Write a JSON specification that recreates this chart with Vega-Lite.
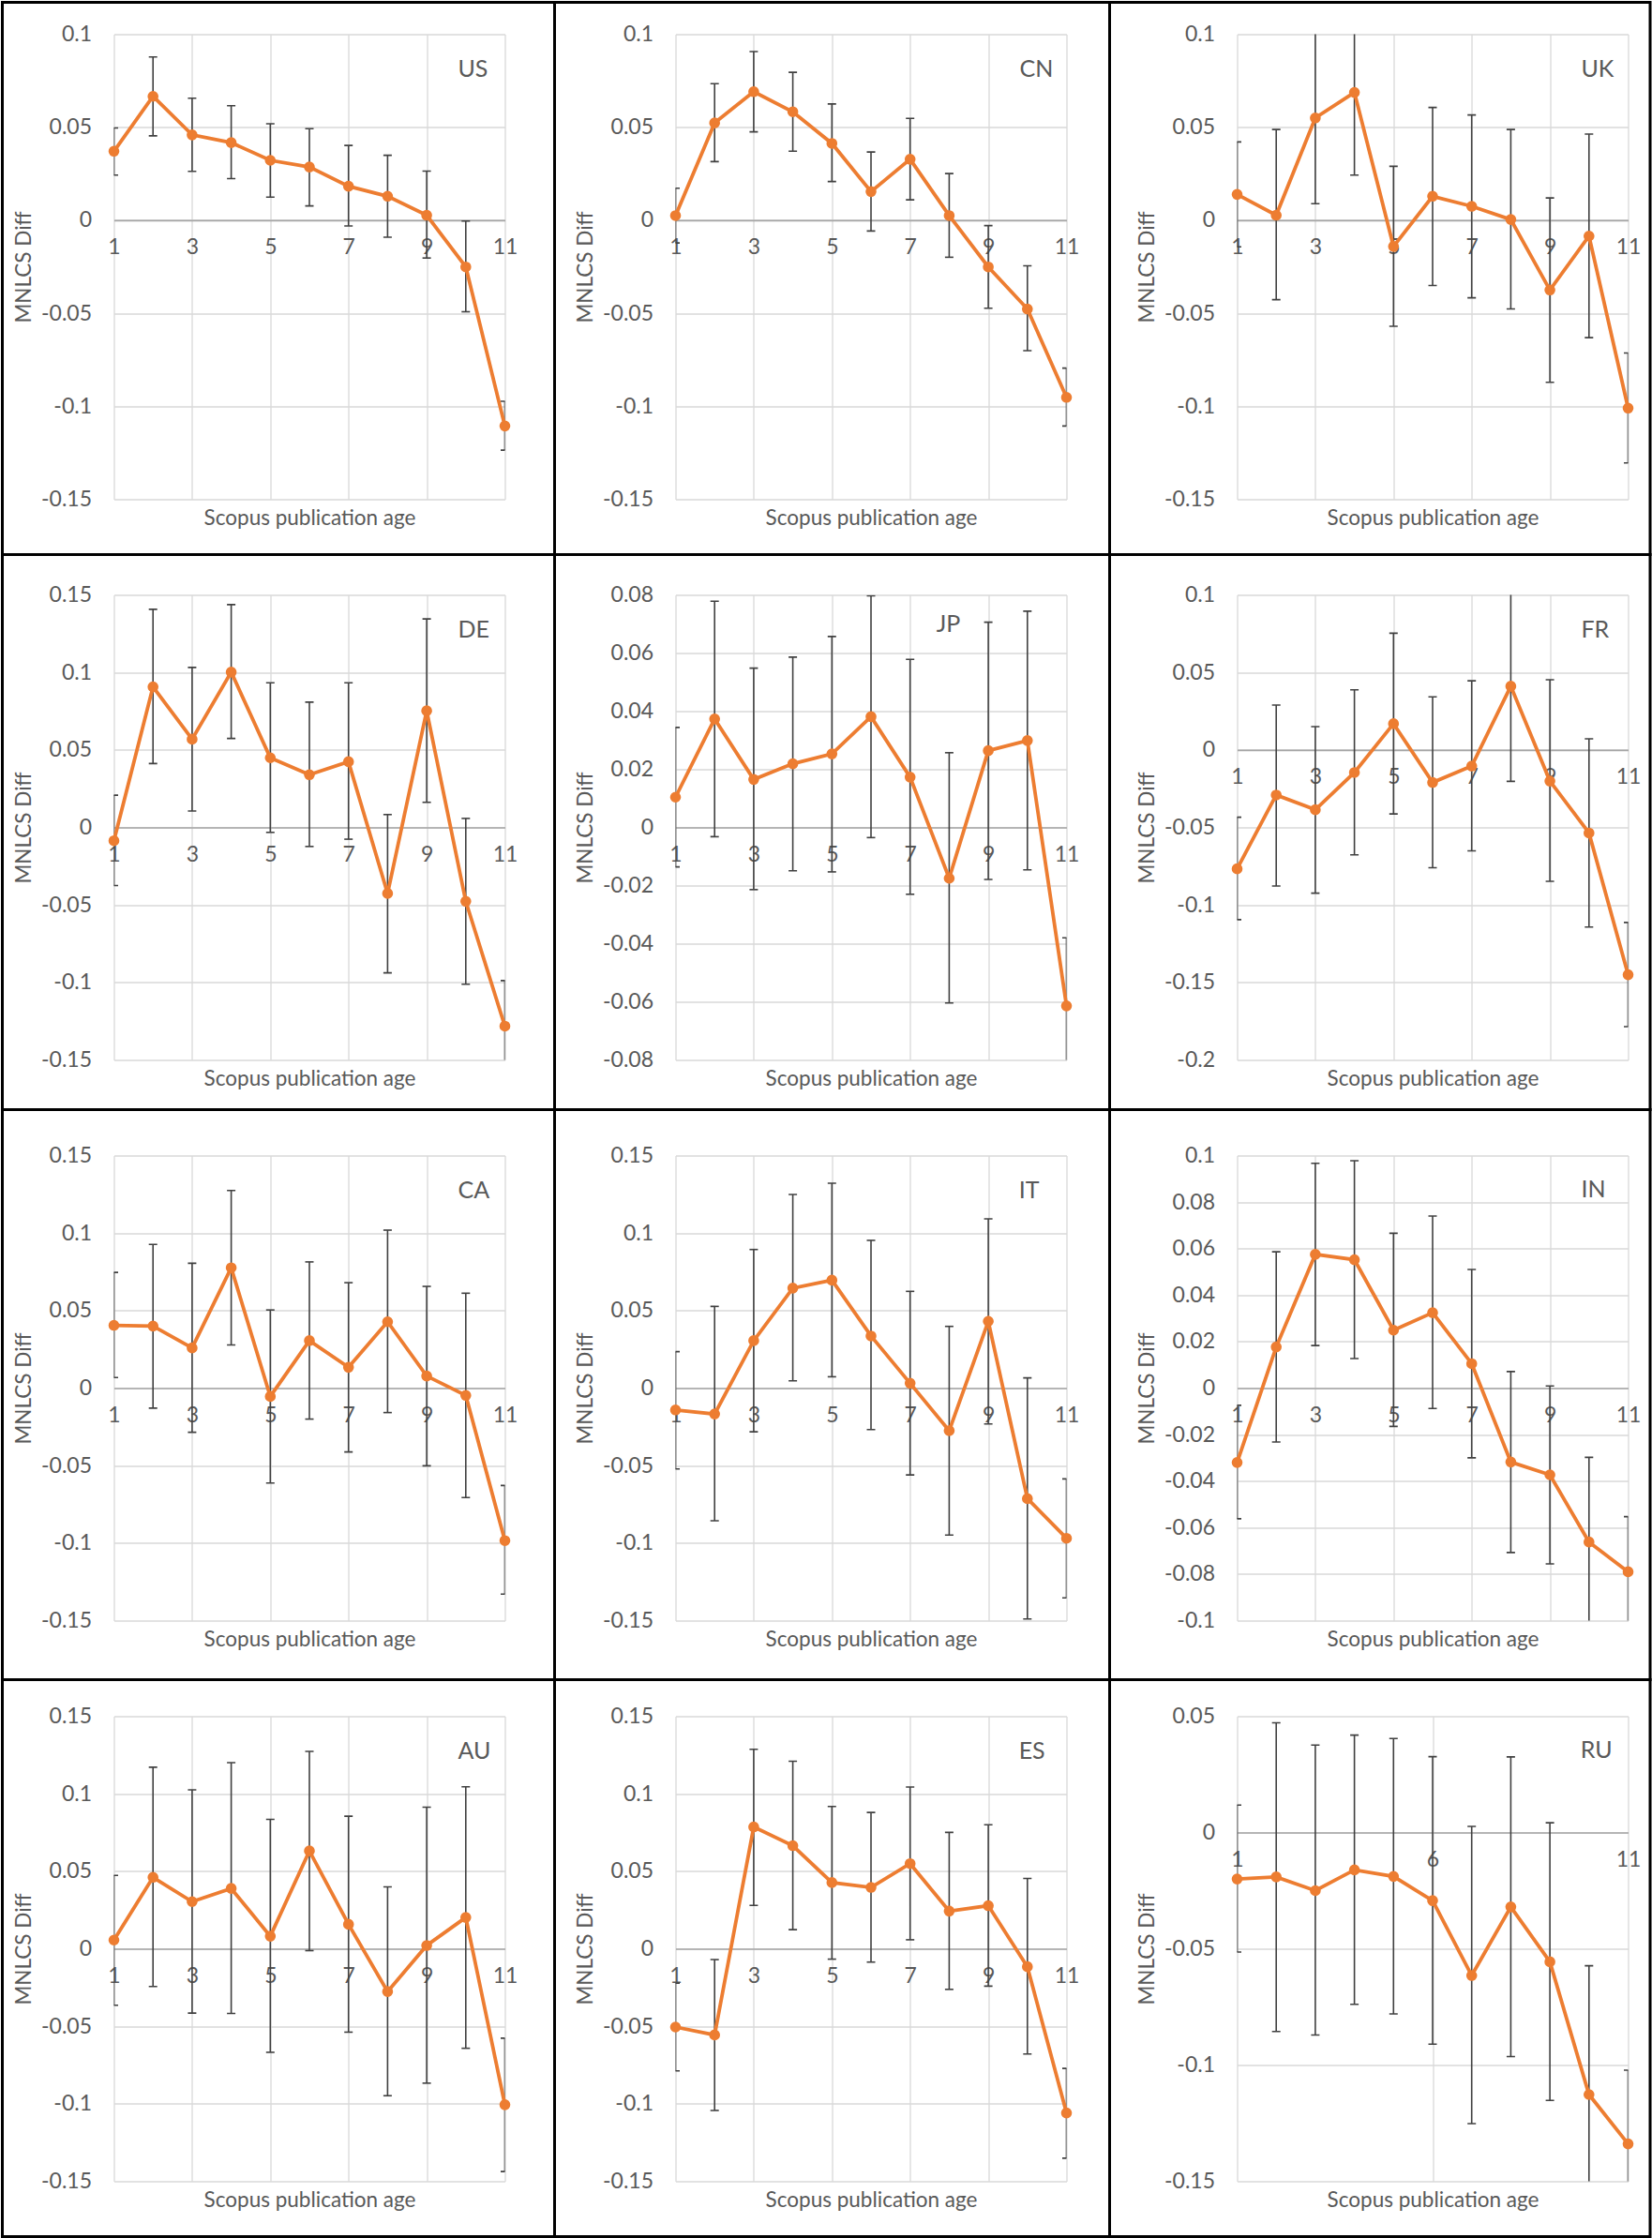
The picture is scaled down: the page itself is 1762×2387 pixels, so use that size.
{
"$schema": "https://vega.github.io/schema/vega-lite/v6.json",
"background": "white",
"padding": {"left": 0.5, "top": 0.5, "right": 0, "bottom": 0},
"autosize": {"type": "pad"},
"columns": 3,
"spacing": {"row": 102, "column": 182},
"bounds": "flush",
"data": {"values": [
{"country":"US","age":1,"diff":0.0371,"lo":0.0243,"hi":0.0496},
{"country":"US","age":2,"diff":0.0666,"lo":0.0454,"hi":0.0878},
{"country":"US","age":3,"diff":0.0459,"lo":0.0263,"hi":0.0656},
{"country":"US","age":4,"diff":0.0417,"lo":0.0224,"hi":0.0616},
{"country":"US","age":5,"diff":0.0322,"lo":0.0124,"hi":0.0519},
{"country":"US","age":6,"diff":0.0286,"lo":0.0077,"hi":0.0492},
{"country":"US","age":7,"diff":0.0183,"lo":-0.0031,"hi":0.0402},
{"country":"US","age":8,"diff":0.0129,"lo":-0.0091,"hi":0.0349},
{"country":"US","age":9,"diff":0.0027,"lo":-0.0203,"hi":0.0264},
{"country":"US","age":10,"diff":-0.0251,"lo":-0.0492,"hi":-0.0004},
{"country":"US","age":11,"diff":-0.1106,"lo":-0.1236,"hi":-0.0973},
{"country":"CN","age":1,"diff":0.0025,"lo":-0.0122,"hi":0.0172},
{"country":"CN","age":2,"diff":0.0523,"lo":0.0315,"hi":0.0734},
{"country":"CN","age":3,"diff":0.0691,"lo":0.0475,"hi":0.0907},
{"country":"CN","age":4,"diff":0.0583,"lo":0.0371,"hi":0.0795},
{"country":"CN","age":5,"diff":0.0413,"lo":0.0208,"hi":0.0625},
{"country":"CN","age":6,"diff":0.0154,"lo":-0.0058,"hi":0.0367},
{"country":"CN","age":7,"diff":0.0328,"lo":0.011,"hi":0.0548},
{"country":"CN","age":8,"diff":0.0025,"lo":-0.0199,"hi":0.0251},
{"country":"CN","age":9,"diff":-0.0251,"lo":-0.0473,"hi":-0.0029},
{"country":"CN","age":10,"diff":-0.0477,"lo":-0.0701,"hi":-0.0245},
{"country":"CN","age":11,"diff":-0.0952,"lo":-0.1106,"hi":-0.0795},
{"country":"UK","age":1,"diff":0.0139,"lo":-0.0143,"hi":0.0421},
{"country":"UK","age":2,"diff":0.0027,"lo":-0.0427,"hi":0.0488},
{"country":"UK","age":3,"diff":0.055,"lo":0.0089,"hi":0.1011},
{"country":"UK","age":4,"diff":0.0687,"lo":0.0243,"hi":0.1131},
{"country":"UK","age":5,"diff":-0.0141,"lo":-0.057,"hi":0.029},
{"country":"UK","age":6,"diff":0.0129,"lo":-0.0351,"hi":0.0606},
{"country":"UK","age":7,"diff":0.0075,"lo":-0.0417,"hi":0.0566},
{"country":"UK","age":8,"diff":0.0004,"lo":-0.0477,"hi":0.0488},
{"country":"UK","age":9,"diff":-0.0375,"lo":-0.0871,"hi":0.012},
{"country":"UK","age":10,"diff":-0.0085,"lo":-0.0631,"hi":0.0463},
{"country":"UK","age":11,"diff":-0.101,"lo":-0.1305,"hi":-0.0714},
{"country":"DE","age":1,"diff":-0.0086,"lo":-0.0375,"hi":0.0208},
{"country":"DE","age":2,"diff":0.0907,"lo":0.0412,"hi":0.1407},
{"country":"DE","age":3,"diff":0.0569,"lo":0.0106,"hi":0.1032},
{"country":"DE","age":4,"diff":0.1002,"lo":0.0574,"hi":0.1437},
{"country":"DE","age":5,"diff":0.0449,"lo":-0.0032,"hi":0.0933},
{"country":"DE","age":6,"diff":0.034,"lo":-0.0123,"hi":0.0808},
{"country":"DE","age":7,"diff":0.0424,"lo":-0.0076,"hi":0.0933},
{"country":"DE","age":8,"diff":-0.0426,"lo":-0.0938,"hi":0.0083},
{"country":"DE","age":9,"diff":0.0752,"lo":0.0162,"hi":0.1345},
{"country":"DE","age":10,"diff":-0.0477,"lo":-0.1012,"hi":0.0058},
{"country":"DE","age":11,"diff":-0.1282,"lo":-0.1576,"hi":-0.0988},
{"country":"JP","age":1,"diff":0.0104,"lo":-0.0136,"hi":0.0344},
{"country":"JP","age":2,"diff":0.0373,"lo":-0.0032,"hi":0.0778},
{"country":"JP","age":3,"diff":0.0165,"lo":-0.0214,"hi":0.0548},
{"country":"JP","age":4,"diff":0.0219,"lo":-0.0149,"hi":0.0586},
{"country":"JP","age":5,"diff":0.0253,"lo":-0.0153,"hi":0.0657},
{"country":"JP","age":6,"diff":0.0381,"lo":-0.0035,"hi":0.0797},
{"country":"JP","age":7,"diff":0.0173,"lo":-0.023,"hi":0.0578},
{"country":"JP","age":8,"diff":-0.0175,"lo":-0.0604,"hi":0.0257},
{"country":"JP","age":9,"diff":0.0264,"lo":-0.0179,"hi":0.0706},
{"country":"JP","age":10,"diff":0.0299,"lo":-0.0146,"hi":0.0744},
{"country":"JP","age":11,"diff":-0.0614,"lo":-0.0848,"hi":-0.038},
{"country":"FR","age":1,"diff":-0.0767,"lo":-0.1095,"hi":-0.0434},
{"country":"FR","age":2,"diff":-0.0291,"lo":-0.0878,"hi":0.0289},
{"country":"FR","age":3,"diff":-0.0386,"lo":-0.0924,"hi":0.015},
{"country":"FR","age":4,"diff":-0.0146,"lo":-0.0677,"hi":0.0388},
{"country":"FR","age":5,"diff":0.0169,"lo":-0.0413,"hi":0.0753},
{"country":"FR","age":6,"diff":-0.021,"lo":-0.076,"hi":0.0342},
{"country":"FR","age":7,"diff":-0.0104,"lo":-0.0651,"hi":0.0446},
{"country":"FR","age":8,"diff":0.0411,"lo":-0.0203,"hi":0.1025},
{"country":"FR","age":9,"diff":-0.0201,"lo":-0.0848,"hi":0.0453},
{"country":"FR","age":10,"diff":-0.0536,"lo":-0.1143,"hi":0.0072},
{"country":"FR","age":11,"diff":-0.145,"lo":-0.1785,"hi":-0.1113},
{"country":"CA","age":1,"diff":0.0405,"lo":0.0068,"hi":0.0746},
{"country":"CA","age":2,"diff":0.04,"lo":-0.0129,"hi":0.0927},
{"country":"CA","age":3,"diff":0.0259,"lo":-0.0285,"hi":0.0805},
{"country":"CA","age":4,"diff":0.0776,"lo":0.0278,"hi":0.1275},
{"country":"CA","age":5,"diff":-0.0054,"lo":-0.0612,"hi":0.0504},
{"country":"CA","age":6,"diff":0.0306,"lo":-0.02,"hi":0.0814},
{"country":"CA","age":7,"diff":0.0134,"lo":-0.0412,"hi":0.068},
{"country":"CA","age":8,"diff":0.0428,"lo":-0.0158,"hi":0.1019},
{"country":"CA","age":9,"diff":0.0078,"lo":-0.0501,"hi":0.0656},
{"country":"CA","age":10,"diff":-0.0047,"lo":-0.0706,"hi":0.0612},
{"country":"CA","age":11,"diff":-0.0984,"lo":-0.1329,"hi":-0.0628},
{"country":"IT","age":1,"diff":-0.0141,"lo":-0.0522,"hi":0.0235},
{"country":"IT","age":2,"diff":-0.0167,"lo":-0.0856,"hi":0.0527},
{"country":"IT","age":3,"diff":0.0306,"lo":-0.0282,"hi":0.0894},
{"country":"IT","age":4,"diff":0.0645,"lo":0.0047,"hi":0.1249},
{"country":"IT","age":5,"diff":0.0696,"lo":0.0073,"hi":0.1322},
{"country":"IT","age":6,"diff":0.0336,"lo":-0.0268,"hi":0.0953},
{"country":"IT","age":7,"diff":0.0031,"lo":-0.056,"hi":0.0624},
{"country":"IT","age":8,"diff":-0.0275,"lo":-0.0948,"hi":0.0398},
{"country":"IT","age":9,"diff":0.0431,"lo":-0.0231,"hi":0.1092},
{"country":"IT","age":10,"diff":-0.0713,"lo":-0.1489,"hi":0.0066},
{"country":"IT","age":11,"diff":-0.0969,"lo":-0.1353,"hi":-0.0586},
{"country":"IN","age":1,"diff":-0.032,"lo":-0.0562,"hi":-0.0074},
{"country":"IN","age":2,"diff":0.0177,"lo":-0.0232,"hi":0.0586},
{"country":"IN","age":3,"diff":0.0575,"lo":0.0183,"hi":0.0967},
{"country":"IN","age":4,"diff":0.0552,"lo":0.0127,"hi":0.0978},
{"country":"IN","age":5,"diff":0.0249,"lo":-0.0165,"hi":0.0666},
{"country":"IN","age":6,"diff":0.0324,"lo":-0.0088,"hi":0.074},
{"country":"IN","age":7,"diff":0.0105,"lo":-0.03,"hi":0.051},
{"country":"IN","age":8,"diff":-0.0318,"lo":-0.0707,"hi":0.0071},
{"country":"IN","age":9,"diff":-0.0373,"lo":-0.0756,"hi":0.0009},
{"country":"IN","age":10,"diff":-0.0662,"lo":-0.1026,"hi":-0.0298},
{"country":"IN","age":11,"diff":-0.079,"lo":-0.1027,"hi":-0.0553},
{"country":"AU","age":1,"diff":0.0056,"lo":-0.0364,"hi":0.0473},
{"country":"AU","age":2,"diff":0.0461,"lo":-0.0243,"hi":0.1171},
{"country":"AU","age":3,"diff":0.0304,"lo":-0.0415,"hi":0.1025},
{"country":"AU","age":4,"diff":0.0389,"lo":-0.0417,"hi":0.1201},
{"country":"AU","age":5,"diff":0.0081,"lo":-0.0668,"hi":0.0835},
{"country":"AU","age":6,"diff":0.0631,"lo":-0.0012,"hi":0.1273},
{"country":"AU","age":7,"diff":0.0158,"lo":-0.0538,"hi":0.0855},
{"country":"AU","age":8,"diff":-0.0276,"lo":-0.0948,"hi":0.0399},
{"country":"AU","age":9,"diff":0.0021,"lo":-0.0867,"hi":0.0913},
{"country":"AU","age":10,"diff":0.0202,"lo":-0.0642,"hi":0.1045},
{"country":"AU","age":11,"diff":-0.1006,"lo":-0.1437,"hi":-0.0577},
{"country":"ES","age":1,"diff":-0.0505,"lo":-0.0788,"hi":-0.0222},
{"country":"ES","age":2,"diff":-0.0556,"lo":-0.1043,"hi":-0.007},
{"country":"ES","age":3,"diff":0.0786,"lo":0.028,"hi":0.1287},
{"country":"ES","age":4,"diff":0.0665,"lo":0.0123,"hi":0.121},
{"country":"ES","age":5,"diff":0.0427,"lo":-0.0067,"hi":0.0918},
{"country":"ES","age":6,"diff":0.0396,"lo":-0.0086,"hi":0.0879},
{"country":"ES","age":7,"diff":0.0549,"lo":0.0058,"hi":0.1043},
{"country":"ES","age":8,"diff":0.0243,"lo":-0.0262,"hi":0.0751},
{"country":"ES","age":9,"diff":0.0278,"lo":-0.0241,"hi":0.08},
{"country":"ES","age":10,"diff":-0.0116,"lo":-0.0679,"hi":0.0454},
{"country":"ES","age":11,"diff":-0.1059,"lo":-0.1351,"hi":-0.0772},
{"country":"RU","age":1,"diff":-0.02,"lo":-0.0514,"hi":0.0118},
{"country":"RU","age":2,"diff":-0.0191,"lo":-0.0856,"hi":0.0472},
{"country":"RU","age":3,"diff":-0.025,"lo":-0.0871,"hi":0.0376},
{"country":"RU","age":4,"diff":-0.0161,"lo":-0.0739,"hi":0.0419},
{"country":"RU","age":5,"diff":-0.0189,"lo":-0.078,"hi":0.0404},
{"country":"RU","age":6,"diff":-0.0293,"lo":-0.091,"hi":0.0326},
{"country":"RU","age":7,"diff":-0.0615,"lo":-0.1252,"hi":0.0026},
{"country":"RU","age":8,"diff":-0.032,"lo":-0.0964,"hi":0.0325},
{"country":"RU","age":9,"diff":-0.0556,"lo":-0.1152,"hi":0.0042},
{"country":"RU","age":10,"diff":-0.1127,"lo":-0.1681,"hi":-0.0573},
{"country":"RU","age":11,"diff":-0.1339,"lo":-0.1656,"hi":-0.1022}
]},
"concat": [
{"width":417,"height":496,"layer":[
 {"transform":[{"filter":"datum.country === 'US'"}],
  "encoding":{"x":{"field":"age","type":"quantitative","scale":{"domain":[1,11],"nice":false,"zero":false},"axis":{"values":[1,3,5,7,9,11],"offset":-297.6,"titleY":317.6,"title":"Scopus publication age"}}},
  "layer":[
   {"mark":{"type":"rule","color":"#404040","strokeWidth":1.6,"clip":true},"encoding":{"y":{"field":"lo","type":"quantitative","title":"MNLCS Diff","scale":{"domain":[-0.15,0.1],"nice":false,"zero":false},"axis":{"values":[-0.15,-0.1,-0.05,0,0.05,0.1],"labelExpr":"'' + datum.value"}},"y2":{"field":"hi"}}},
   {"mark":{"type":"tick","orient":"horizontal","size":9,"thickness":1.6,"color":"#404040","opacity":1,"clip":true},"encoding":{"y":{"field":"lo","type":"quantitative","title":"MNLCS Diff"}}},
   {"mark":{"type":"tick","orient":"horizontal","size":9,"thickness":1.6,"color":"#404040","opacity":1,"clip":true},"encoding":{"y":{"field":"hi","type":"quantitative","title":"MNLCS Diff"}}},
   {"mark":{"type":"line","color":"#ED7D31","strokeWidth":3.8,"point":{"filled":true,"size":135,"color":"#ED7D31","opacity":1}},"encoding":{"y":{"field":"diff","type":"quantitative","title":"MNLCS Diff"}}},
   {"transform":[{"filter":"datum.age === 1"}],"mark":{"type":"text","align":"left","baseline":"middle","fontSize":25,"font":"Lato","color":"#595959"},"encoding":{"x":{"datum":9.8},"y":{"datum":0.0813},"text":{"field":"country"}}}
  ]},
 {"data":{"values":[{}]},"mark":{"type":"rect","fill":"transparent","stroke":"#000000","strokeWidth":3,"clip":false},
  "encoding":{"x":{"datum":0,"type":"quantitative","scale":{"domain":[0,1],"range":[-119,470]},"axis":null},"x2":{"datum":1},"y":{"datum":0,"type":"quantitative","scale":{"domain":[0,1],"range":[-34,555]},"axis":null},"y2":{"datum":1}}}
 ],"resolve":{"scale":{"x":"independent","y":"independent"}}},

{"width":417,"height":496,"layer":[
 {"transform":[{"filter":"datum.country === 'CN'"}],
  "encoding":{"x":{"field":"age","type":"quantitative","scale":{"domain":[1,11],"nice":false,"zero":false},"axis":{"values":[1,3,5,7,9,11],"offset":-297.6,"titleY":317.6,"title":"Scopus publication age"}}},
  "layer":[
   {"mark":{"type":"rule","color":"#404040","strokeWidth":1.6,"clip":true},"encoding":{"y":{"field":"lo","type":"quantitative","title":"MNLCS Diff","scale":{"domain":[-0.15,0.1],"nice":false,"zero":false},"axis":{"values":[-0.15,-0.1,-0.05,0,0.05,0.1],"labelExpr":"'' + datum.value"}},"y2":{"field":"hi"}}},
   {"mark":{"type":"tick","orient":"horizontal","size":9,"thickness":1.6,"color":"#404040","opacity":1,"clip":true},"encoding":{"y":{"field":"lo","type":"quantitative","title":"MNLCS Diff"}}},
   {"mark":{"type":"tick","orient":"horizontal","size":9,"thickness":1.6,"color":"#404040","opacity":1,"clip":true},"encoding":{"y":{"field":"hi","type":"quantitative","title":"MNLCS Diff"}}},
   {"mark":{"type":"line","color":"#ED7D31","strokeWidth":3.8,"point":{"filled":true,"size":135,"color":"#ED7D31","opacity":1}},"encoding":{"y":{"field":"diff","type":"quantitative","title":"MNLCS Diff"}}},
   {"transform":[{"filter":"datum.age === 1"}],"mark":{"type":"text","align":"left","baseline":"middle","fontSize":25,"font":"Lato","color":"#595959"},"encoding":{"x":{"datum":9.8},"y":{"datum":0.0813},"text":{"field":"country"}}}
  ]},
 {"data":{"values":[{}]},"mark":{"type":"rect","fill":"transparent","stroke":"#000000","strokeWidth":3,"clip":false},
  "encoding":{"x":{"datum":0,"type":"quantitative","scale":{"domain":[0,1],"range":[-129,463]},"axis":null},"x2":{"datum":1},"y":{"datum":0,"type":"quantitative","scale":{"domain":[0,1],"range":[-34,555]},"axis":null},"y2":{"datum":1}}}
 ],"resolve":{"scale":{"x":"independent","y":"independent"}}},

{"width":417,"height":496,"layer":[
 {"transform":[{"filter":"datum.country === 'UK'"}],
  "encoding":{"x":{"field":"age","type":"quantitative","scale":{"domain":[1,11],"nice":false,"zero":false},"axis":{"values":[1,3,5,7,9,11],"offset":-297.6,"titleY":317.6,"title":"Scopus publication age"}}},
  "layer":[
   {"mark":{"type":"rule","color":"#404040","strokeWidth":1.6,"clip":true},"encoding":{"y":{"field":"lo","type":"quantitative","title":"MNLCS Diff","scale":{"domain":[-0.15,0.1],"nice":false,"zero":false},"axis":{"values":[-0.15,-0.1,-0.05,0,0.05,0.1],"labelExpr":"'' + datum.value"}},"y2":{"field":"hi"}}},
   {"mark":{"type":"tick","orient":"horizontal","size":9,"thickness":1.6,"color":"#404040","opacity":1,"clip":true},"encoding":{"y":{"field":"lo","type":"quantitative","title":"MNLCS Diff"}}},
   {"mark":{"type":"tick","orient":"horizontal","size":9,"thickness":1.6,"color":"#404040","opacity":1,"clip":true},"encoding":{"y":{"field":"hi","type":"quantitative","title":"MNLCS Diff"}}},
   {"mark":{"type":"line","color":"#ED7D31","strokeWidth":3.8,"point":{"filled":true,"size":135,"color":"#ED7D31","opacity":1}},"encoding":{"y":{"field":"diff","type":"quantitative","title":"MNLCS Diff"}}},
   {"transform":[{"filter":"datum.age === 1"}],"mark":{"type":"text","align":"left","baseline":"middle","fontSize":25,"font":"Lato","color":"#595959"},"encoding":{"x":{"datum":9.8},"y":{"datum":0.0813},"text":{"field":"country"}}}
  ]},
 {"data":{"values":[{}]},"mark":{"type":"rect","fill":"transparent","stroke":"#000000","strokeWidth":3,"clip":false},
  "encoding":{"x":{"datum":0,"type":"quantitative","scale":{"domain":[0,1],"range":[-136,440.5]},"axis":null},"x2":{"datum":1},"y":{"datum":0,"type":"quantitative","scale":{"domain":[0,1],"range":[-34,555]},"axis":null},"y2":{"datum":1}}}
 ],"resolve":{"scale":{"x":"independent","y":"independent"}}},

{"width":417,"height":496,"layer":[
 {"transform":[{"filter":"datum.country === 'DE'"}],
  "encoding":{"x":{"field":"age","type":"quantitative","scale":{"domain":[1,11],"nice":false,"zero":false},"axis":{"values":[1,3,5,7,9,11],"offset":-248,"titleY":268,"title":"Scopus publication age"}}},
  "layer":[
   {"mark":{"type":"rule","color":"#404040","strokeWidth":1.6,"clip":true},"encoding":{"y":{"field":"lo","type":"quantitative","title":"MNLCS Diff","scale":{"domain":[-0.15,0.15],"nice":false,"zero":false},"axis":{"values":[-0.15,-0.1,-0.05,0,0.05,0.1,0.15],"labelExpr":"'' + datum.value"}},"y2":{"field":"hi"}}},
   {"mark":{"type":"tick","orient":"horizontal","size":9,"thickness":1.6,"color":"#404040","opacity":1,"clip":true},"encoding":{"y":{"field":"lo","type":"quantitative","title":"MNLCS Diff"}}},
   {"mark":{"type":"tick","orient":"horizontal","size":9,"thickness":1.6,"color":"#404040","opacity":1,"clip":true},"encoding":{"y":{"field":"hi","type":"quantitative","title":"MNLCS Diff"}}},
   {"mark":{"type":"line","color":"#ED7D31","strokeWidth":3.8,"point":{"filled":true,"size":135,"color":"#ED7D31","opacity":1}},"encoding":{"y":{"field":"diff","type":"quantitative","title":"MNLCS Diff"}}},
   {"transform":[{"filter":"datum.age === 1"}],"mark":{"type":"text","align":"left","baseline":"middle","fontSize":25,"font":"Lato","color":"#595959"},"encoding":{"x":{"datum":9.8},"y":{"datum":0.1276},"text":{"field":"country"}}}
  ]},
 {"data":{"values":[{}]},"mark":{"type":"rect","fill":"transparent","stroke":"#000000","strokeWidth":3,"clip":false},
  "encoding":{"x":{"datum":0,"type":"quantitative","scale":{"domain":[0,1],"range":[-119,470]},"axis":null},"x2":{"datum":1},"y":{"datum":0,"type":"quantitative","scale":{"domain":[0,1],"range":[-43,549]},"axis":null},"y2":{"datum":1}}}
 ],"resolve":{"scale":{"x":"independent","y":"independent"}}},

{"width":417,"height":496,"layer":[
 {"transform":[{"filter":"datum.country === 'JP'"}],
  "encoding":{"x":{"field":"age","type":"quantitative","scale":{"domain":[1,11],"nice":false,"zero":false},"axis":{"values":[1,3,5,7,9,11],"offset":-248,"titleY":268,"title":"Scopus publication age"}}},
  "layer":[
   {"mark":{"type":"rule","color":"#404040","strokeWidth":1.6,"clip":true},"encoding":{"y":{"field":"lo","type":"quantitative","title":"MNLCS Diff","scale":{"domain":[-0.08,0.08],"nice":false,"zero":false},"axis":{"values":[-0.08,-0.06,-0.04,-0.02,0,0.02,0.04,0.06,0.08],"labelExpr":"'' + datum.value"}},"y2":{"field":"hi"}}},
   {"mark":{"type":"tick","orient":"horizontal","size":9,"thickness":1.6,"color":"#404040","opacity":1,"clip":true},"encoding":{"y":{"field":"lo","type":"quantitative","title":"MNLCS Diff"}}},
   {"mark":{"type":"tick","orient":"horizontal","size":9,"thickness":1.6,"color":"#404040","opacity":1,"clip":true},"encoding":{"y":{"field":"hi","type":"quantitative","title":"MNLCS Diff"}}},
   {"mark":{"type":"line","color":"#ED7D31","strokeWidth":3.8,"point":{"filled":true,"size":135,"color":"#ED7D31","opacity":1}},"encoding":{"y":{"field":"diff","type":"quantitative","title":"MNLCS Diff"}}},
   {"transform":[{"filter":"datum.age === 1"}],"mark":{"type":"text","align":"left","baseline":"middle","fontSize":25,"font":"Lato","color":"#595959"},"encoding":{"x":{"datum":7.67},"y":{"datum":0.07},"text":{"field":"country"}}}
  ]},
 {"data":{"values":[{}]},"mark":{"type":"rect","fill":"transparent","stroke":"#000000","strokeWidth":3,"clip":false},
  "encoding":{"x":{"datum":0,"type":"quantitative","scale":{"domain":[0,1],"range":[-129,463]},"axis":null},"x2":{"datum":1},"y":{"datum":0,"type":"quantitative","scale":{"domain":[0,1],"range":[-43,549]},"axis":null},"y2":{"datum":1}}}
 ],"resolve":{"scale":{"x":"independent","y":"independent"}}},

{"width":417,"height":496,"layer":[
 {"transform":[{"filter":"datum.country === 'FR'"}],
  "encoding":{"x":{"field":"age","type":"quantitative","scale":{"domain":[1,11],"nice":false,"zero":false},"axis":{"values":[1,3,5,7,9,11],"offset":-330.67,"titleY":350.67,"title":"Scopus publication age"}}},
  "layer":[
   {"mark":{"type":"rule","color":"#404040","strokeWidth":1.6,"clip":true},"encoding":{"y":{"field":"lo","type":"quantitative","title":"MNLCS Diff","scale":{"domain":[-0.2,0.1],"nice":false,"zero":false},"axis":{"values":[-0.2,-0.15,-0.1,-0.05,0,0.05,0.1],"labelExpr":"'' + datum.value"}},"y2":{"field":"hi"}}},
   {"mark":{"type":"tick","orient":"horizontal","size":9,"thickness":1.6,"color":"#404040","opacity":1,"clip":true},"encoding":{"y":{"field":"lo","type":"quantitative","title":"MNLCS Diff"}}},
   {"mark":{"type":"tick","orient":"horizontal","size":9,"thickness":1.6,"color":"#404040","opacity":1,"clip":true},"encoding":{"y":{"field":"hi","type":"quantitative","title":"MNLCS Diff"}}},
   {"mark":{"type":"line","color":"#ED7D31","strokeWidth":3.8,"point":{"filled":true,"size":135,"color":"#ED7D31","opacity":1}},"encoding":{"y":{"field":"diff","type":"quantitative","title":"MNLCS Diff"}}},
   {"transform":[{"filter":"datum.age === 1"}],"mark":{"type":"text","align":"left","baseline":"middle","fontSize":25,"font":"Lato","color":"#595959"},"encoding":{"x":{"datum":9.8},"y":{"datum":0.0776},"text":{"field":"country"}}}
  ]},
 {"data":{"values":[{}]},"mark":{"type":"rect","fill":"transparent","stroke":"#000000","strokeWidth":3,"clip":false},
  "encoding":{"x":{"datum":0,"type":"quantitative","scale":{"domain":[0,1],"range":[-136,440.5]},"axis":null},"x2":{"datum":1},"y":{"datum":0,"type":"quantitative","scale":{"domain":[0,1],"range":[-43,549]},"axis":null},"y2":{"datum":1}}}
 ],"resolve":{"scale":{"x":"independent","y":"independent"}}},

{"width":417,"height":496,"layer":[
 {"transform":[{"filter":"datum.country === 'CA'"}],
  "encoding":{"x":{"field":"age","type":"quantitative","scale":{"domain":[1,11],"nice":false,"zero":false},"axis":{"values":[1,3,5,7,9,11],"offset":-248,"titleY":268,"title":"Scopus publication age"}}},
  "layer":[
   {"mark":{"type":"rule","color":"#404040","strokeWidth":1.6,"clip":true},"encoding":{"y":{"field":"lo","type":"quantitative","title":"MNLCS Diff","scale":{"domain":[-0.15,0.15],"nice":false,"zero":false},"axis":{"values":[-0.15,-0.1,-0.05,0,0.05,0.1,0.15],"labelExpr":"'' + datum.value"}},"y2":{"field":"hi"}}},
   {"mark":{"type":"tick","orient":"horizontal","size":9,"thickness":1.6,"color":"#404040","opacity":1,"clip":true},"encoding":{"y":{"field":"lo","type":"quantitative","title":"MNLCS Diff"}}},
   {"mark":{"type":"tick","orient":"horizontal","size":9,"thickness":1.6,"color":"#404040","opacity":1,"clip":true},"encoding":{"y":{"field":"hi","type":"quantitative","title":"MNLCS Diff"}}},
   {"mark":{"type":"line","color":"#ED7D31","strokeWidth":3.8,"point":{"filled":true,"size":135,"color":"#ED7D31","opacity":1}},"encoding":{"y":{"field":"diff","type":"quantitative","title":"MNLCS Diff"}}},
   {"transform":[{"filter":"datum.age === 1"}],"mark":{"type":"text","align":"left","baseline":"middle","fontSize":25,"font":"Lato","color":"#595959"},"encoding":{"x":{"datum":9.8},"y":{"datum":0.1276},"text":{"field":"country"}}}
  ]},
 {"data":{"values":[{}]},"mark":{"type":"rect","fill":"transparent","stroke":"#000000","strokeWidth":3,"clip":false},
  "encoding":{"x":{"datum":0,"type":"quantitative","scale":{"domain":[0,1],"range":[-119,470]},"axis":null},"x2":{"datum":1},"y":{"datum":0,"type":"quantitative","scale":{"domain":[0,1],"range":[-49,559]},"axis":null},"y2":{"datum":1}}}
 ],"resolve":{"scale":{"x":"independent","y":"independent"}}},

{"width":417,"height":496,"layer":[
 {"transform":[{"filter":"datum.country === 'IT'"}],
  "encoding":{"x":{"field":"age","type":"quantitative","scale":{"domain":[1,11],"nice":false,"zero":false},"axis":{"values":[1,3,5,7,9,11],"offset":-248,"titleY":268,"title":"Scopus publication age"}}},
  "layer":[
   {"mark":{"type":"rule","color":"#404040","strokeWidth":1.6,"clip":true},"encoding":{"y":{"field":"lo","type":"quantitative","title":"MNLCS Diff","scale":{"domain":[-0.15,0.15],"nice":false,"zero":false},"axis":{"values":[-0.15,-0.1,-0.05,0,0.05,0.1,0.15],"labelExpr":"'' + datum.value"}},"y2":{"field":"hi"}}},
   {"mark":{"type":"tick","orient":"horizontal","size":9,"thickness":1.6,"color":"#404040","opacity":1,"clip":true},"encoding":{"y":{"field":"lo","type":"quantitative","title":"MNLCS Diff"}}},
   {"mark":{"type":"tick","orient":"horizontal","size":9,"thickness":1.6,"color":"#404040","opacity":1,"clip":true},"encoding":{"y":{"field":"hi","type":"quantitative","title":"MNLCS Diff"}}},
   {"mark":{"type":"line","color":"#ED7D31","strokeWidth":3.8,"point":{"filled":true,"size":135,"color":"#ED7D31","opacity":1}},"encoding":{"y":{"field":"diff","type":"quantitative","title":"MNLCS Diff"}}},
   {"transform":[{"filter":"datum.age === 1"}],"mark":{"type":"text","align":"left","baseline":"middle","fontSize":25,"font":"Lato","color":"#595959"},"encoding":{"x":{"datum":9.78},"y":{"datum":0.1276},"text":{"field":"country"}}}
  ]},
 {"data":{"values":[{}]},"mark":{"type":"rect","fill":"transparent","stroke":"#000000","strokeWidth":3,"clip":false},
  "encoding":{"x":{"datum":0,"type":"quantitative","scale":{"domain":[0,1],"range":[-129,463]},"axis":null},"x2":{"datum":1},"y":{"datum":0,"type":"quantitative","scale":{"domain":[0,1],"range":[-49,559]},"axis":null},"y2":{"datum":1}}}
 ],"resolve":{"scale":{"x":"independent","y":"independent"}}},

{"width":417,"height":496,"layer":[
 {"transform":[{"filter":"datum.country === 'IN'"}],
  "encoding":{"x":{"field":"age","type":"quantitative","scale":{"domain":[1,11],"nice":false,"zero":false},"axis":{"values":[1,3,5,7,9,11],"offset":-248,"titleY":268,"title":"Scopus publication age"}}},
  "layer":[
   {"mark":{"type":"rule","color":"#404040","strokeWidth":1.6,"clip":true},"encoding":{"y":{"field":"lo","type":"quantitative","title":"MNLCS Diff","scale":{"domain":[-0.1,0.1],"nice":false,"zero":false},"axis":{"values":[-0.1,-0.08,-0.06,-0.04,-0.02,0,0.02,0.04,0.06,0.08,0.1],"labelExpr":"'' + datum.value"}},"y2":{"field":"hi"}}},
   {"mark":{"type":"tick","orient":"horizontal","size":9,"thickness":1.6,"color":"#404040","opacity":1,"clip":true},"encoding":{"y":{"field":"lo","type":"quantitative","title":"MNLCS Diff"}}},
   {"mark":{"type":"tick","orient":"horizontal","size":9,"thickness":1.6,"color":"#404040","opacity":1,"clip":true},"encoding":{"y":{"field":"hi","type":"quantitative","title":"MNLCS Diff"}}},
   {"mark":{"type":"line","color":"#ED7D31","strokeWidth":3.8,"point":{"filled":true,"size":135,"color":"#ED7D31","opacity":1}},"encoding":{"y":{"field":"diff","type":"quantitative","title":"MNLCS Diff"}}},
   {"transform":[{"filter":"datum.age === 1"}],"mark":{"type":"text","align":"left","baseline":"middle","fontSize":25,"font":"Lato","color":"#595959"},"encoding":{"x":{"datum":9.8},"y":{"datum":0.0851},"text":{"field":"country"}}}
  ]},
 {"data":{"values":[{}]},"mark":{"type":"rect","fill":"transparent","stroke":"#000000","strokeWidth":3,"clip":false},
  "encoding":{"x":{"datum":0,"type":"quantitative","scale":{"domain":[0,1],"range":[-136,440.5]},"axis":null},"x2":{"datum":1},"y":{"datum":0,"type":"quantitative","scale":{"domain":[0,1],"range":[-49,559]},"axis":null},"y2":{"datum":1}}}
 ],"resolve":{"scale":{"x":"independent","y":"independent"}}},

{"width":417,"height":496,"layer":[
 {"transform":[{"filter":"datum.country === 'AU'"}],
  "encoding":{"x":{"field":"age","type":"quantitative","scale":{"domain":[1,11],"nice":false,"zero":false},"axis":{"values":[1,3,5,7,9,11],"offset":-248,"titleY":268,"title":"Scopus publication age"}}},
  "layer":[
   {"mark":{"type":"rule","color":"#404040","strokeWidth":1.6,"clip":true},"encoding":{"y":{"field":"lo","type":"quantitative","title":"MNLCS Diff","scale":{"domain":[-0.15,0.15],"nice":false,"zero":false},"axis":{"values":[-0.15,-0.1,-0.05,0,0.05,0.1,0.15],"labelExpr":"'' + datum.value"}},"y2":{"field":"hi"}}},
   {"mark":{"type":"tick","orient":"horizontal","size":9,"thickness":1.6,"color":"#404040","opacity":1,"clip":true},"encoding":{"y":{"field":"lo","type":"quantitative","title":"MNLCS Diff"}}},
   {"mark":{"type":"tick","orient":"horizontal","size":9,"thickness":1.6,"color":"#404040","opacity":1,"clip":true},"encoding":{"y":{"field":"hi","type":"quantitative","title":"MNLCS Diff"}}},
   {"mark":{"type":"line","color":"#ED7D31","strokeWidth":3.8,"point":{"filled":true,"size":135,"color":"#ED7D31","opacity":1}},"encoding":{"y":{"field":"diff","type":"quantitative","title":"MNLCS Diff"}}},
   {"transform":[{"filter":"datum.age === 1"}],"mark":{"type":"text","align":"left","baseline":"middle","fontSize":25,"font":"Lato","color":"#595959"},"encoding":{"x":{"datum":9.8},"y":{"datum":0.1276},"text":{"field":"country"}}}
  ]},
 {"data":{"values":[{}]},"mark":{"type":"rect","fill":"transparent","stroke":"#000000","strokeWidth":3,"clip":false},
  "encoding":{"x":{"datum":0,"type":"quantitative","scale":{"domain":[0,1],"range":[-119,470]},"axis":null},"x2":{"datum":1},"y":{"datum":0,"type":"quantitative","scale":{"domain":[0,1],"range":[-39,555]},"axis":null},"y2":{"datum":1}}}
 ],"resolve":{"scale":{"x":"independent","y":"independent"}}},

{"width":417,"height":496,"layer":[
 {"transform":[{"filter":"datum.country === 'ES'"}],
  "encoding":{"x":{"field":"age","type":"quantitative","scale":{"domain":[1,11],"nice":false,"zero":false},"axis":{"values":[1,3,5,7,9,11],"offset":-248,"titleY":268,"title":"Scopus publication age"}}},
  "layer":[
   {"mark":{"type":"rule","color":"#404040","strokeWidth":1.6,"clip":true},"encoding":{"y":{"field":"lo","type":"quantitative","title":"MNLCS Diff","scale":{"domain":[-0.15,0.15],"nice":false,"zero":false},"axis":{"values":[-0.15,-0.1,-0.05,0,0.05,0.1,0.15],"labelExpr":"'' + datum.value"}},"y2":{"field":"hi"}}},
   {"mark":{"type":"tick","orient":"horizontal","size":9,"thickness":1.6,"color":"#404040","opacity":1,"clip":true},"encoding":{"y":{"field":"lo","type":"quantitative","title":"MNLCS Diff"}}},
   {"mark":{"type":"tick","orient":"horizontal","size":9,"thickness":1.6,"color":"#404040","opacity":1,"clip":true},"encoding":{"y":{"field":"hi","type":"quantitative","title":"MNLCS Diff"}}},
   {"mark":{"type":"line","color":"#ED7D31","strokeWidth":3.8,"point":{"filled":true,"size":135,"color":"#ED7D31","opacity":1}},"encoding":{"y":{"field":"diff","type":"quantitative","title":"MNLCS Diff"}}},
   {"transform":[{"filter":"datum.age === 1"}],"mark":{"type":"text","align":"left","baseline":"middle","fontSize":25,"font":"Lato","color":"#595959"},"encoding":{"x":{"datum":9.78},"y":{"datum":0.1276},"text":{"field":"country"}}}
  ]},
 {"data":{"values":[{}]},"mark":{"type":"rect","fill":"transparent","stroke":"#000000","strokeWidth":3,"clip":false},
  "encoding":{"x":{"datum":0,"type":"quantitative","scale":{"domain":[0,1],"range":[-129,463]},"axis":null},"x2":{"datum":1},"y":{"datum":0,"type":"quantitative","scale":{"domain":[0,1],"range":[-39,555]},"axis":null},"y2":{"datum":1}}}
 ],"resolve":{"scale":{"x":"independent","y":"independent"}}},

{"width":417,"height":496,"layer":[
 {"transform":[{"filter":"datum.country === 'RU'"}],
  "encoding":{"x":{"field":"age","type":"quantitative","scale":{"domain":[1,11],"nice":false,"zero":false},"axis":{"values":[1,6,11],"offset":-372,"titleY":392,"title":"Scopus publication age"}}},
  "layer":[
   {"mark":{"type":"rule","color":"#404040","strokeWidth":1.6,"clip":true},"encoding":{"y":{"field":"lo","type":"quantitative","title":"MNLCS Diff","scale":{"domain":[-0.15,0.05],"nice":false,"zero":false},"axis":{"values":[-0.15,-0.1,-0.05,0,0.05],"labelExpr":"'' + datum.value"}},"y2":{"field":"hi"}}},
   {"mark":{"type":"tick","orient":"horizontal","size":9,"thickness":1.6,"color":"#404040","opacity":1,"clip":true},"encoding":{"y":{"field":"lo","type":"quantitative","title":"MNLCS Diff"}}},
   {"mark":{"type":"tick","orient":"horizontal","size":9,"thickness":1.6,"color":"#404040","opacity":1,"clip":true},"encoding":{"y":{"field":"hi","type":"quantitative","title":"MNLCS Diff"}}},
   {"mark":{"type":"line","color":"#ED7D31","strokeWidth":3.8,"point":{"filled":true,"size":135,"color":"#ED7D31","opacity":1}},"encoding":{"y":{"field":"diff","type":"quantitative","title":"MNLCS Diff"}}},
   {"transform":[{"filter":"datum.age === 1"}],"mark":{"type":"text","align":"left","baseline":"middle","fontSize":25,"font":"Lato","color":"#595959"},"encoding":{"x":{"datum":9.78},"y":{"datum":0.0351},"text":{"field":"country"}}}
  ]},
 {"data":{"values":[{}]},"mark":{"type":"rect","fill":"transparent","stroke":"#000000","strokeWidth":3,"clip":false},
  "encoding":{"x":{"datum":0,"type":"quantitative","scale":{"domain":[0,1],"range":[-136,440.5]},"axis":null},"x2":{"datum":1},"y":{"datum":0,"type":"quantitative","scale":{"domain":[0,1],"range":[-39,555]},"axis":null},"y2":{"datum":1}}}
 ],"resolve":{"scale":{"x":"independent","y":"independent"}}}
],
"config": {
 "view": {"stroke": null},
 "font": "Lato",
 "axis": {"labelFont": "Lato", "labelFontSize": 23, "labelColor": "#595959", "titleFont": "Lato", "titleFontSize": 22.5, "titleFontWeight": "normal", "titleColor": "#595959", "gridColor": "#D9D9D9", "gridWidth": 1.3, "ticks": false, "labelOverlap": false},
 "axisX": {"domainColor": "#A6A6A6", "domainWidth": 1.6, "labelFlush": false, "labelPadding": 18, "labelBaseline": "top", "titleBaseline": "middle"},
 "axisY": {"domain": false, "labelPadding": 24, "titleX": -96, "titleBaseline": "middle"}
}
}
